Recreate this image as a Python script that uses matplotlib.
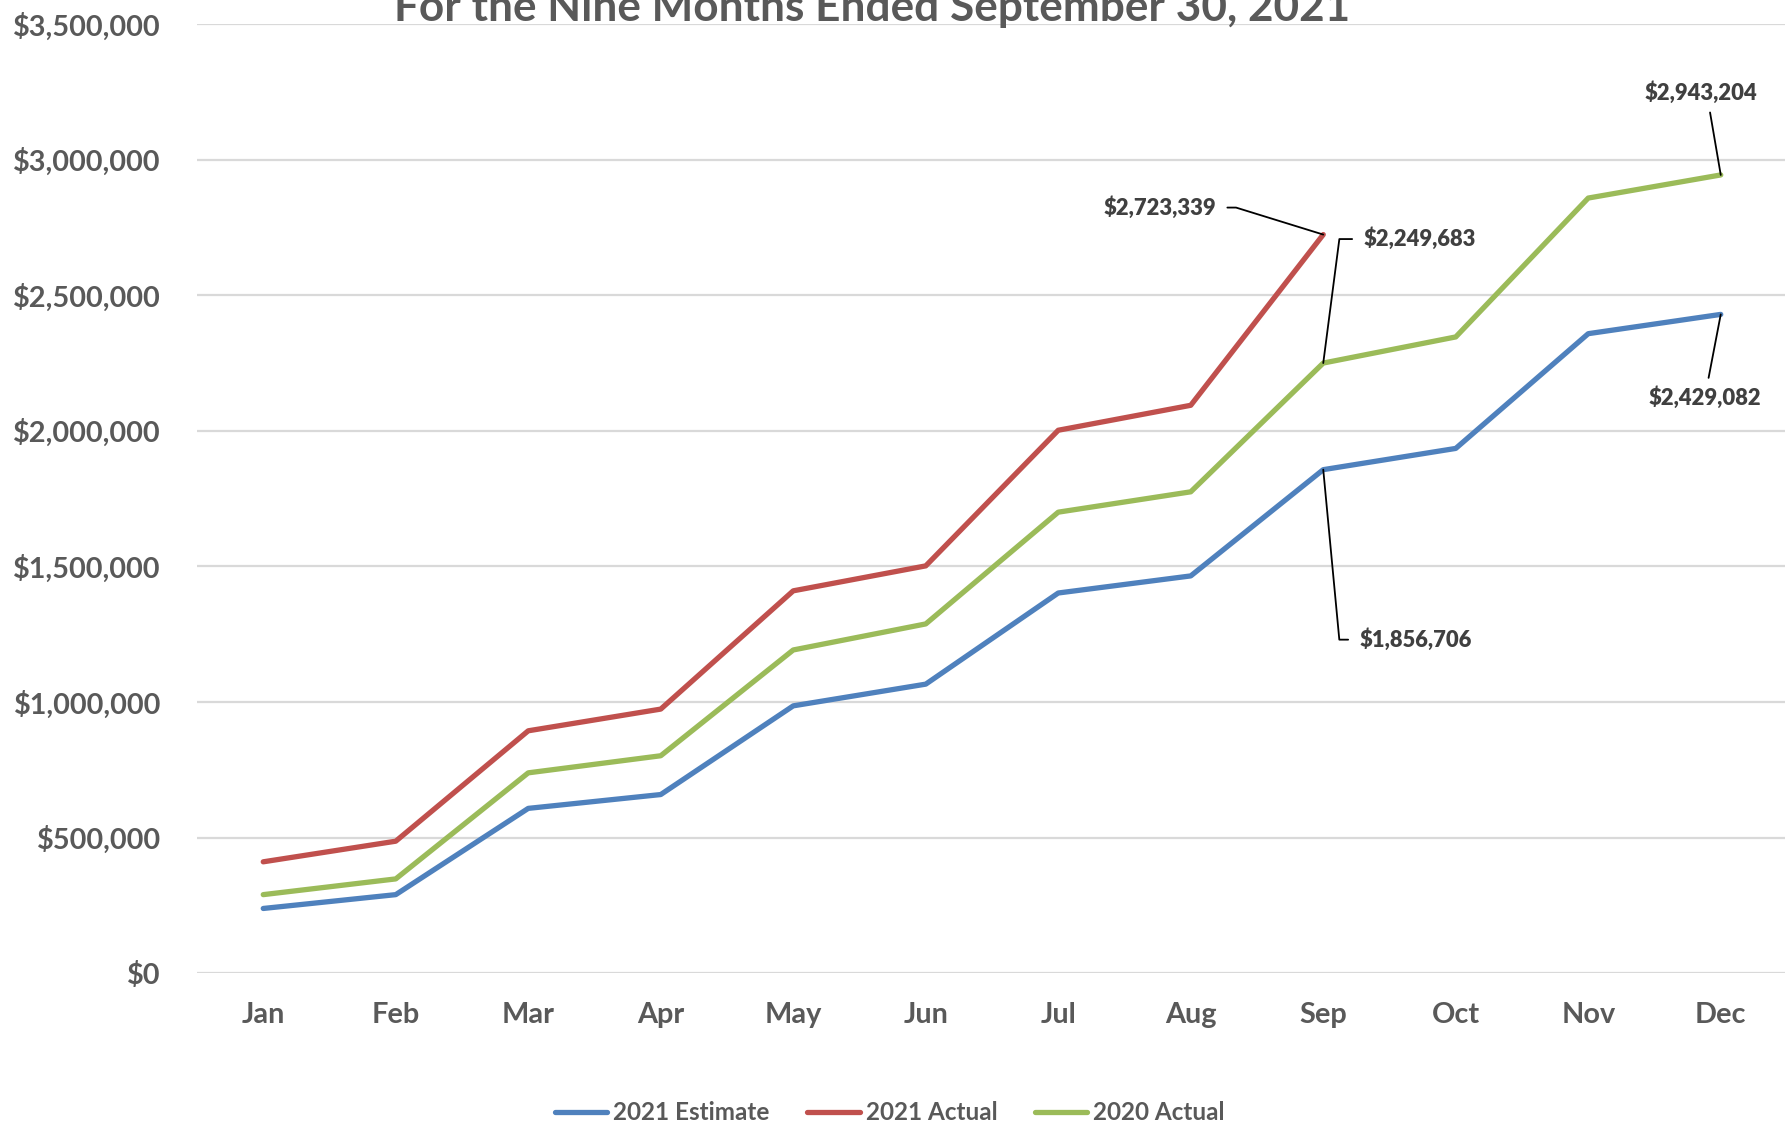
import matplotlib
matplotlib.use("Agg")
import matplotlib.pyplot as plt
from matplotlib.ticker import FuncFormatter, MultipleLocator

plt.rcParams['font.family'] = ['Lato', 'DejaVu Sans']

months = ["Jan", "Feb", "Mar", "Apr", "May", "Jun", "Jul", "Aug", "Sep", "Oct", "Nov", "Dec"]
estimate_2021 = [239000, 290000, 608000, 659000, 986000, 1066000, 1402000, 1465000,
                 1856706, 1935000, 2358000, 2429082]
actual_2021 = [411000, 487000, 894000, 974000, 1410000, 1502000, 2002000, 2094000, 2723339]
actual_2020 = [290000, 348000, 739000, 802000, 1192000, 1288000, 1700000, 1775000,
               2249683, 2346000, 2858000, 2943204]
series_names = ["2021 Estimate", "2021 Actual", "2020 Actual"]
title = "For the Nine Months Ended September 30, 2021"

colors = ["#4F81BD", "#C0504D", "#9BBB59"]
txt = "#595959"

W, H = 1785, 1128
fig = plt.figure(figsize=(W / 100, H / 100), dpi=100)
ax = fig.add_axes([197 / W, 1 - 973.3 / H, (1787 - 197) / W, (973.3 - 23.9) / H])

x_est = list(range(len(estimate_2021)))
x_a21 = list(range(len(actual_2021)))
x_a20 = list(range(len(actual_2020)))
lw = 3.8
ax.plot(x_est, estimate_2021, color=colors[0], lw=lw, label=series_names[0], solid_capstyle='round', zorder=3)
ax.plot(x_a21, actual_2021, color=colors[1], lw=lw, label=series_names[1], solid_capstyle='round', zorder=3)
ax.plot(x_a20, actual_2020, color=colors[2], lw=lw, label=series_names[2], solid_capstyle='round', zorder=3)

ax.set_xlim(-0.5, 11.5)
ax.set_ylim(0, 3500000)
ax.yaxis.set_major_locator(MultipleLocator(500000))
ax.yaxis.set_major_formatter(FuncFormatter(lambda v, p: "${:,.0f}".format(v)))
ax.set_xticks(range(len(months)))
ax.set_xticklabels(months)
ax.grid(axis='y', color='#d9d9d9', lw=1.6, zorder=0)
ax.set_axisbelow(True)
for s in ax.spines.values():
    s.set_visible(False)
ax.tick_params(axis='both', length=0, labelsize=20.8, labelcolor=txt)
ax.tick_params(axis='y', pad=26)
ax.tick_params(axis='x', pad=21)
for lab in ax.get_xticklabels() + ax.get_yticklabels():
    lab.set_fontweight('bold')

fig.text(872 / W, 1 - 21 / H, title, ha='center', va='baseline', fontsize=31.8,
         fontweight='bold', color=txt)

ann_color = "#404040"
def label(xi, val, dx, dy, ha, relpos, conn, shrinkA=5):
    ax.annotate("${:,.0f}".format(val), xy=(xi, val), xytext=(dx, dy),
                textcoords='offset pixels', ha=ha, va='center', fontsize=15.8,
                fontweight='heavy', color=ann_color, zorder=5,
                arrowprops=dict(arrowstyle='-', color='black', lw=1.3,
                                shrinkA=shrinkA, shrinkB=0, relpos=relpos,
                                connectionstyle=conn))

i = len(actual_2021) - 1
label(i, actual_2021[i], -107, 27, 'right', (1, 0.5), 'angle,angleA=0,angleB=-17.2,rad=0', 6)
label(8, actual_2020[8], 40, 124, 'left', (0, 0.5), 'angle,angleA=0,angleB=82.6,rad=0', 6)
label(8, estimate_2021[8], 36, -170, 'left', (0, 0.5), 'angle,angleA=0,angleB=95.4,rad=0', 6)
label(11, actual_2020[11], -20, 82, 'center', (0.57, 0), 'arc3', 4)
label(11, estimate_2021[11], -16, -83, 'center', (0.52, 1), 'arc3', 4)

leg = fig.legend(loc='center', bbox_to_anchor=(890 / W, 1 - 1113 / H), ncol=3,
                 frameon=False, fontsize=17.5, handlelength=2.15, handletextpad=0.25,
                 columnspacing=1.55)
for t in leg.get_texts():
    t.set_color(txt)
    t.set_fontweight('bold')

fig.savefig("out.png", dpi=100)
